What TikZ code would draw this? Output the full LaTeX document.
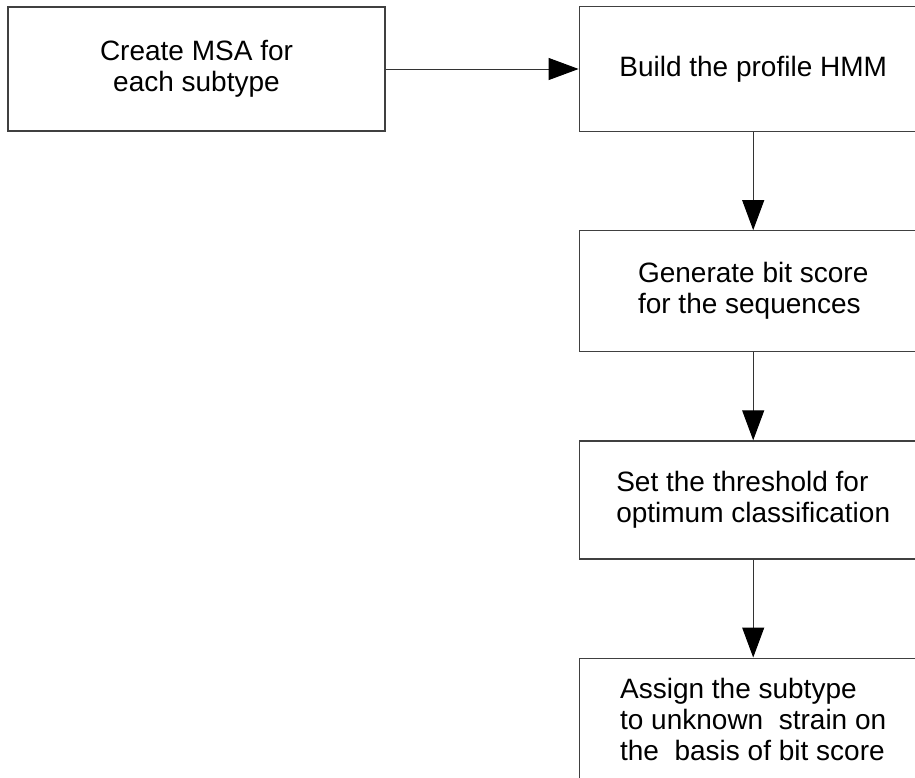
\documentclass[tikz,border=0pt]{standalone}
\usepackage{fontspec}
\setmainfont{Liberation Sans}
\usetikzlibrary{positioning,arrows.meta}

\begin{document}
\begin{tikzpicture}[every node/.style={font=\fontsize{14}{15.5}\selectfont},
					stepbox/.style={draw=black!75, line width=0.6pt, rectangle, minimum width=174pt, align=left, inner sep=0pt},
					firstbox/.style={draw=black!75, line width=0.6pt, rectangle, minimum width=188.5pt, minimum height=62pt, align=center},
					flow/.style={draw=black!80, line width=0.5pt, -{Triangle[length=15pt,width=11pt,color=black]}},
					node distance=49pt]
	\clip (-98.25pt,34.5pt) rectangle (359.25pt,-354pt);

	\node[firstbox] (msa) {Create MSA for\\each subtype};
	\node[stepbox, minimum height=62.5pt, right=96.5pt of msa] (hmm) {Build the profile HMM};
	\node[stepbox, minimum height=60.5pt, below= of hmm] (bits) {Generate bit score\\for the sequences};
	\node[stepbox, minimum height=59pt, below=44pt of bits] (thresh) {Set the threshold for\\optimum classification};
	\node[stepbox, minimum height=61pt, below= of thresh] (assign) {Assign the subtype\\to unknown\ \ strain on\\the\ \ basis of bit score};

	\draw[flow] (msa) -- (hmm);
	\draw[flow] (hmm) -- (bits);
	\draw[flow] (bits) -- (thresh);
	\draw[flow] (thresh) -- (assign);
\end{tikzpicture}
\end{document}
